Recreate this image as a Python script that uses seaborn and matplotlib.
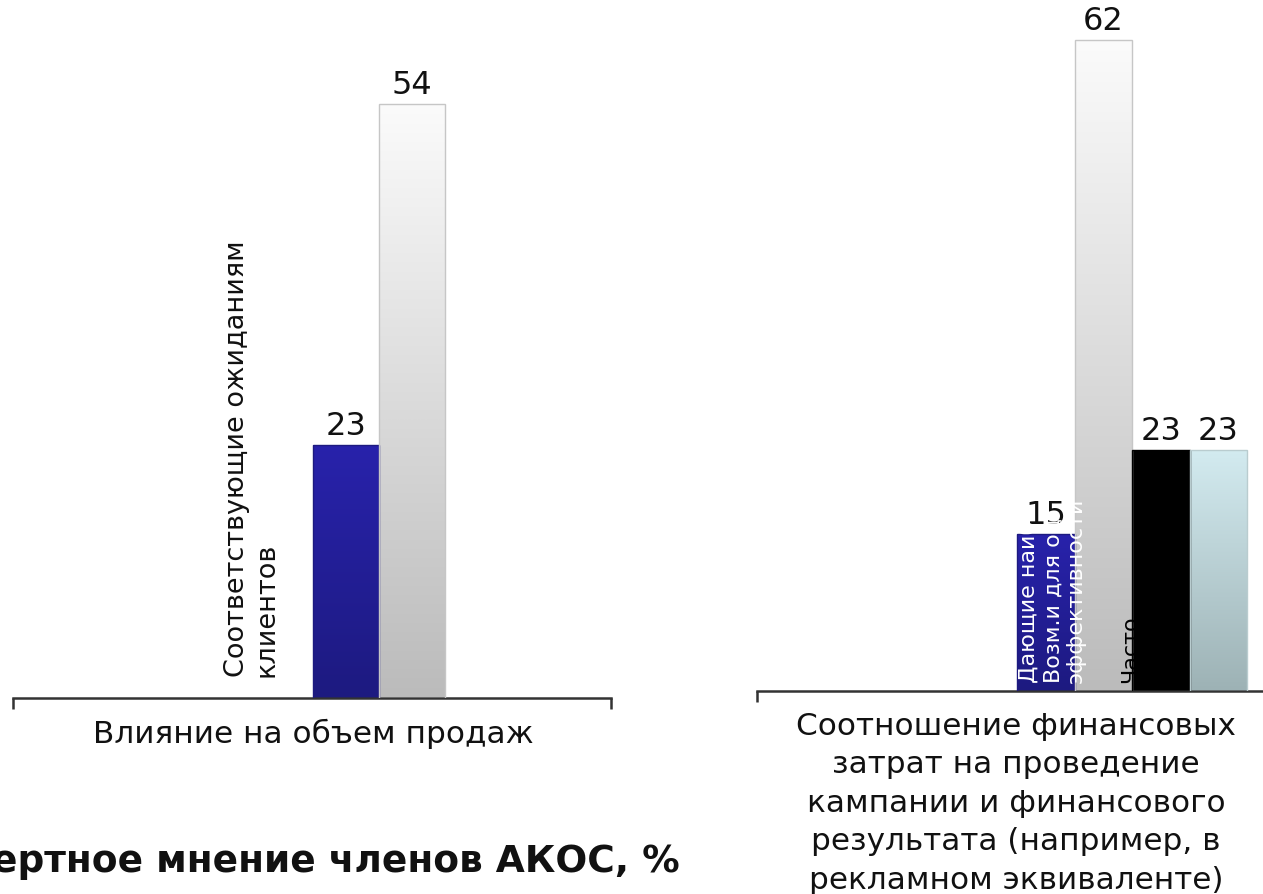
import numpy as np
import pandas as pd
import matplotlib
matplotlib.use("Agg")
import matplotlib.pyplot as plt
import seaborn as sns
from matplotlib.colors import LinearSegmentedColormap

# ---- data -------------------------------------------------------------
left_category = "Влияние на объем продаж"
left_slots = ["a", "b", "c", "d"]
left_bar_slots = ["c", "d"]
left_values = [23, 54]

right_category = ("Соотношение финансовых\nзатрат на проведение\nкампании и финансового\n"
                  "результата (например, в\nрекламном эквиваленте)")
right_slots = ["a", "b", "c", "d", "e", "f", "g", "h"]
right_bar_slots = ["e", "f", "g", "h"]
right_values = [15, 62, 23, 23]

left_series_label = "Соответствующие ожиданиям\nклиентов"
right_series_label = "Дающие наиб\nВозм.и для оц\nэффективности"
right_series_label2 = "Часто"
title = "Экспертное мнение членов АКОС, %"

# ---- style ------------------------------------------------------------
sns.set_theme(style="white")
plt.rcParams["font.family"] = ["DejaVu Sans"]

W, H = 1263, 894
fig = plt.figure(figsize=(W / 100, H / 100), dpi=100)


def fx(px):
    return px / W


def fy(py):
    return (H - py) / H


# bar fills: (top colour, bottom colour)
fills = {
    "blue": ("#2822ab", "#1d1a80"),
    "gray": ("#fbfbfb", "#bbbbbb"),
    "black": ("#000000", "#000000"),
    "cyan": ("#d3ebf0", "#9db2b5"),
}


def gradient_bars(ax, kinds, edges):
    patches = [p for p in ax.patches]
    xl, yl = ax.get_xlim(), ax.get_ylim()
    for p, kind, ec in zip(patches, kinds, edges):
        top, bottom = fills[kind]
        cmap = LinearSegmentedColormap.from_list(kind, [bottom, top])
        x0, y0 = p.get_x(), p.get_y()
        w, h = p.get_width(), p.get_height()
        grad = np.linspace(0, 1, 256).reshape(-1, 1)
        im = ax.imshow(grad, extent=[x0, x0 + w, y0, y0 + h], origin="lower",
                       aspect="auto", cmap=cmap, zorder=2, interpolation="bicubic")
        im.set_clip_path(p)
        p.set_facecolor("none")
        p.set_edgecolor(ec)
        p.set_linewidth(1.0)
        p.set_zorder(3)
    ax.set_xlim(xl)
    ax.set_ylim(yl)


def style_axis(ax, xlim, ylim):
    ax.set_xlim(xlim)
    ax.set_ylim(ylim)
    for s in ["top", "right", "left"]:
        ax.spines[s].set_visible(False)
    ax.spines["bottom"].set_color("#333333")
    ax.spines["bottom"].set_linewidth(1.8)
    ax.set_yticks([])
    ax.set_xticks(list(xlim))
    ax.set_xticklabels(["", ""])
    ax.tick_params(axis="x", direction="out", length=8, width=1.8, color="#333333",
                   bottom=True)
    ax.set_xlabel("")
    ax.set_ylabel("")
    ax.patch.set_alpha(0)


# ---- left panel ---------------------------------------------------------
left_px = (13, 611)
left_xlim = (-3.045, 6.015)
ax1 = fig.add_axes([fx(left_px[0]), fy(698), fx(left_px[1] - left_px[0]), 660 / H])
df1 = pd.DataFrame({"slot": left_bar_slots, "value": left_values})
sns.barplot(data=df1, x="slot", y="value", order=left_slots, hue="slot",
            palette={"c": "#2822ab", "d": "#eeeeee"}, width=1.0, saturation=1,
            legend=False, ax=ax1)
style_axis(ax1, left_xlim, (0, 60))
for c in ax1.containers:
    ax1.bar_label(c, fmt="%d", fontsize=23, padding=2, color="#111111")
gradient_bars(ax1, ["blue", "gray"], ["#1d1a80", "#c6c6c6"])

# ---- right panel --------------------------------------------------------
right_px = 757
right_xlim = (-1.022, 8.022)
right_w = (right_xlim[1] - right_xlim[0]) * 57.5
ax2 = fig.add_axes([fx(right_px), fy(691), fx(right_w), 682.5 / H])
df2 = pd.DataFrame({"slot": right_bar_slots, "value": right_values})
sns.barplot(data=df2, x="slot", y="value", order=right_slots, hue="slot",
            palette={"e": "#2822ab", "f": "#eeeeee", "g": "#000000", "h": "#c0dde2"},
            width=1.0, saturation=1, legend=False, ax=ax2)
style_axis(ax2, right_xlim, (0, 65))
for c in ax2.containers:
    ax2.bar_label(c, fmt="%d", fontsize=23, padding=2, color="#111111")
gradient_bars(ax2, ["blue", "gray", "black", "cyan"],
              ["#1d1a80", "#c6c6c6", "#000000", "#b9cccf"])

# ---- texts ----------------------------------------------------------------
fig.text(fx(313), fy(734), left_category, ha="center", va="center",
         fontsize=22.4, color="#111111")
fig.text(fx(1016), fy(712), right_category, ha="center", va="top",
         fontsize=22.4, color="#111111", linespacing=1.41)

fig.text(fx(252), fy(677), left_series_label, rotation=90, ha="center",
         va="bottom", fontsize=19.5, color="#111111", multialignment="left",
         linespacing=1.2)
fig.text(fx(1053), fy(683), right_series_label, rotation=90, ha="center",
         va="bottom", fontsize=16, color="white", multialignment="left",
         linespacing=1.2, zorder=5)
fig.text(fx(1130), fy(683), right_series_label2, rotation=90, ha="center",
         va="bottom", fontsize=16, color="black", zorder=5)

fig.text(fx(680), fy(862), title, ha="right", va="center", fontsize=27,
         fontweight="bold", color="#111111")

fig.savefig("out.png", dpi=100)
